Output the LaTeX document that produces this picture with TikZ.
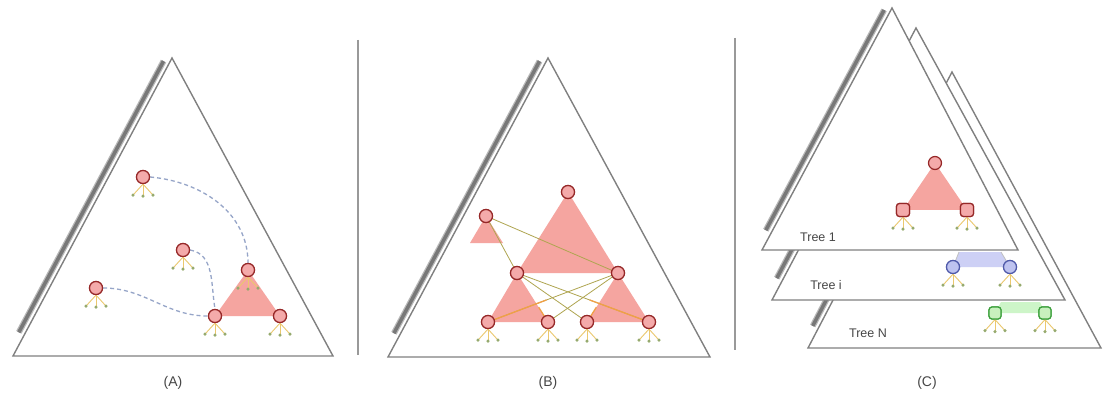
\documentclass[tikz,border=0pt]{standalone}
\usepackage{fontspec}
\setmainfont{Liberation Sans}
\usetikzlibrary{calc}
\definecolor{edgegray}{RGB}{128,128,128}
\definecolor{shadowlight}{RGB}{185,185,185}
\definecolor{shadowdark}{RGB}{120,120,120}
\definecolor{nodered}{RGB}{150,40,40}
\definecolor{nodepink}{RGB}{244,170,170}
\definecolor{fillred}{RGB}{245,165,160}
\definecolor{nodeblue}{RGB}{80,90,170}
\definecolor{bluefill}{RGB}{190,195,240}
\definecolor{bandblue}{RGB}{205,208,245}
\definecolor{nodegreen}{RGB}{60,160,60}
\definecolor{greenfill}{RGB}{200,240,190}
\definecolor{bandgreen}{RGB}{205,245,200}
\definecolor{leafyellow}{RGB}{235,200,110}
\definecolor{leafgreen}{RGB}{150,170,110}
\definecolor{dashblue}{RGB}{150,165,200}
\definecolor{olive}{RGB}{175,165,80}
\definecolor{orangeline}{RGB}{240,160,70}
\definecolor{textgray}{RGB}{70,70,70}
\newcommand\myleaves[1]{%
  \foreach \dx/\dy in {-10/11,0/12,10/11}{%
    \draw[leafline] (#1.south) -- ++(\dx,\dy);
    \fill[leafgreen] ($(#1.south)+(\dx,\dy)$) circle[radius=1.7pt];
  }}
\newcommand\mytri[5]{% apex, bottom-left, bottom-right, offset, start
  \draw[shadowline] ($(#1)!#5!(#2)!#4!-90:(#2)$) -- ($(#1)!0.93!(#2)!#4!-90:(#2)$);
  \draw[shadowcore] ($(#1)!#5!(#2)!#4!-90:(#2)$) -- ($(#1)!0.93!(#2)!#4!-90:(#2)$);
  \draw[tri] (#1) -- (#2) -- (#3) -- cycle;}
\begin{document}
\begin{tikzpicture}[x=1pt,y=-1pt,
  tri/.style={draw=edgegray, line width=1.4pt, fill=white, line join=miter},
  shadowline/.style={draw=shadowlight, line width=6pt, line cap=butt},
  shadowcore/.style={draw=shadowdark, line width=3.5pt, line cap=butt},
  rnode/.style={circle, draw=nodered, fill=nodepink, line width=1.2pt, minimum size=13pt, inner sep=0pt},
  rsq/.style={rounded corners=3pt, rectangle, draw=nodered, fill=nodepink, line width=1.2pt, minimum size=13pt, inner sep=0pt},
  bnode/.style={circle, draw=nodeblue, fill=bluefill, line width=1.2pt, minimum size=13pt, inner sep=0pt},
  gnode/.style={rounded corners=3pt, rectangle, draw=nodegreen, fill=greenfill, line width=1.2pt, minimum size=12pt, inner sep=0pt},
  leafline/.style={draw=leafyellow, line width=0.9pt},
  dashlink/.style={draw=dashblue, line width=1.3pt, dash pattern=on 4pt off 3pt},
  oliveline/.style={draw=olive, line width=0.8pt},
  orline/.style={draw=orangeline, line width=1.3pt},
  sep/.style={draw=edgegray!80, line width=1.5pt},
  lbl/.style={font=\fontsize{14}{16}\selectfont, text=textgray},
  treelbl/.style={font=\fontsize{12.5}{14}\selectfont, text=textgray}
]
\useasboundingbox (0,0) rectangle (1104,401);

% ---------- coordinates of triangles
\coordinate (AA) at (172,58);  \coordinate (AL) at (13,356);  \coordinate (AR) at (333,356);
\coordinate (BA) at (548,58);  \coordinate (BL) at (388,357); \coordinate (BR) at (710,357);
\coordinate (NA) at (952,72);  \coordinate (NL) at (808,348); \coordinate (NR) at (1101,348);
\coordinate (IA) at (916,28);  \coordinate (IL) at (772,300); \coordinate (IR) at (1065,300);
\coordinate (TA) at (892,8);   \coordinate (TL) at (762,250); \coordinate (TR) at (1018,250);

\mytri{AA}{AL}{AR}{6pt}{0.02}
\mytri{BA}{BL}{BR}{6pt}{0.02}
\mytri{NA}{NL}{NR}{6pt}{0.6}
\mytri{IA}{IL}{IR}{6pt}{0.6}
\mytri{TA}{TL}{TR}{6pt}{0.02}

% separators
\coordinate (s1t) at (358,40); \coordinate (s1b) at (358,355);
\coordinate (s2t) at (735,38); \coordinate (s2b) at (735,350);
\draw[sep] (s1t) -- (s1b);
\draw[sep] (s2t) -- (s2b);

% ---------- Panel A
\coordinate (a1) at (143,177); \coordinate (a2) at (183,250); \coordinate (a3) at (96,288);
\coordinate (a4) at (248,270); \coordinate (a5) at (215,316); \coordinate (a6) at (280,316);
\fill[fillred] (a4) -- (a5) -- (a6) -- cycle;
\node[rnode] (na1) at (a1) {};
\node[rnode] (na2) at (a2) {};
\node[rnode] (na3) at (a3) {};
\node[rnode] (na4) at (a4) {};
\node[rnode] (na5) at (a5) {};
\node[rnode] (na6) at (a6) {};
\draw[dashlink] (na1.east) to[out=-5,in=90] (na4.north);
\draw[dashlink] (na2.east) to[out=-10,in=100] (na5.north);
\draw[dashlink] (na3.east) to[out=0,in=180] (na5.west);
\foreach \n in {na1,na2,na3,na4,na5,na6}{\myleaves{\n}}
\foreach \n in {a1,a2,a3,a4,a5,a6}{\node[rnode] at (\n) {};}

% ---------- Panel B
\coordinate (b1) at (568,192); \coordinate (b2) at (486,216);
\coordinate (b3) at (517,273); \coordinate (b4) at (618,273);
\coordinate (b5) at (488,322); \coordinate (b6) at (548,322);
\coordinate (b7) at (587,322); \coordinate (b8) at (649,322);
\coordinate (b2l) at (470,243); \coordinate (b2r) at (503,243);
\fill[fillred] (b1) -- (b3) -- (b4) -- cycle;
\fill[fillred] (b3) -- (b5) -- (b6) -- cycle;
\fill[fillred] (b4) -- (b7) -- (b8) -- cycle;
\fill[fillred] (b2) -- (b2l) -- (b2r) -- cycle;
\draw[oliveline] (b2) -- (b4);
\draw[oliveline] (b2) -- (b3);
\draw[oliveline] (b3) -- (b7);
\draw[oliveline] (b3) -- (b8);
\draw[oliveline] (b4) -- (b5);
\draw[oliveline] (b4) -- (b6);
\draw[orline] (b5) -- ($(b5)!0.45!(b4)$);
\draw[orline] (b8) -- ($(b8)!0.45!(b3)$);
\draw[orline] (b6) -- ($(b6)!0.3!(b3)$);
\draw[orline] (b7) -- ($(b7)!0.3!(b4)$);
\node[rnode] (nb1) at (b1) {};
\node[rnode] (nb2) at (b2) {};
\node[rnode] (nb3) at (b3) {};
\node[rnode] (nb4) at (b4) {};
\node[rnode] (nb5) at (b5) {};
\node[rnode] (nb6) at (b6) {};
\node[rnode] (nb7) at (b7) {};
\node[rnode] (nb8) at (b8) {};
\foreach \n in {nb5,nb6,nb7,nb8}{\myleaves{\n}}
\foreach \n in {b1,b2,b3,b4,b5,b6,b7,b8}{\node[rnode] at (\n) {};}

% ---------- Panel C
% Tree 1
\coordinate (c1) at (935,163); \coordinate (c2) at (903,210); \coordinate (c3) at (967,210);
\fill[fillred] (c1) -- (c2) -- (c3) -- cycle;
\node[rnode] (nc1) at (c1) {};
\node[rsq] (nc2) at (c2) {};
\node[rsq] (nc3) at (c3) {};
\myleaves{nc2}\myleaves{nc3}
\node[rsq] at (c2) {};
\node[rsq] at (c3) {};
% Tree i
\coordinate (d1) at (953,267); \coordinate (d2) at (1010,267);
\coordinate (d1t) at (959,252); \coordinate (d2t) at (1001,252);
\fill[bandblue] (d1t) -- (d2t) -- (d2) -- (d1) -- cycle;
\draw[edgegray!50, line width=0.8pt] (d1) -- (d1t);
\draw[edgegray!50, line width=0.8pt] (d2) -- (d2t);
\node[bnode] (nd1) at (d1) {};
\node[bnode] (nd2) at (d2) {};
\myleaves{nd1}\myleaves{nd2}
\node[bnode] at (d1) {};
\node[bnode] at (d2) {};
% Tree N
\coordinate (e1) at (995,313); \coordinate (e2) at (1045,313);
\coordinate (e1t) at (1001,302); \coordinate (e2t) at (1040,302);
\fill[bandgreen] (e1t) -- (e2t) -- (e2) -- (e1) -- cycle;
\node[gnode] (ne1) at (e1) {};
\node[gnode] (ne2) at (e2) {};
\myleaves{ne1}\myleaves{ne2}
\node[gnode] at (e1) {};
\node[gnode] at (e2) {};

\node[treelbl] (t1) at (818,237) {Tree 1};
\node[treelbl] (ti) at (826,285) {Tree i};
\node[treelbl] (tn) at (868,333) {Tree N};

% ---------- captions
\node[lbl] (la) at (173,383) {(A)};
\node[lbl] (lb) at (548,383) {(B)};
\node[lbl] (lc) at (927,383) {(C)};
\end{tikzpicture}
\end{document}
